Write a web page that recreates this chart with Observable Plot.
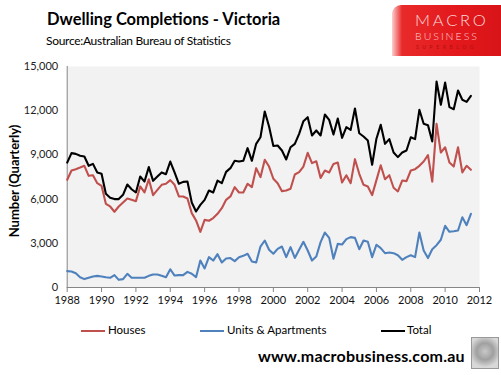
<!DOCTYPE html>
<html>
<head>
<meta charset="utf-8">
<script src="https://cdn.jsdelivr.net/npm/d3@7"></script>
<script src="https://cdn.jsdelivr.net/npm/@observablehq/plot@0.6"></script>
<style>
  html, body { margin: 0; padding: 0; background: #fff; }
  #wrap { position: relative; width: 501px; height: 375px; overflow: hidden; font-family: Lato, "Open Sans", sans-serif; color: #000; }
  #chart { position: absolute; left: 0; top: 0; }
  .abs { position: absolute; white-space: nowrap; }
  #title { left: 47px; top: 9px; font-size: 16.5px; font-weight: bold; letter-spacing: 0px; }
  #sub { left: 46px; top: 33px; font-size: 12px; letter-spacing: -0.3px; }
  #ylab { left: 14px; top: 181px; font-size: 13px; font-weight: bold; transform: translate(-50%, -50%) rotate(-90deg); }
  #logo { left: 392px; top: 5px; width: 109px; height: 51px; border-top-left-radius: 9px;
          background: linear-gradient(90deg, rgba(240,60,60,0.25) 0px, #e92a2a 10px, #e3181c 60%, #d81418 100%); }
  .lg1 { left: 23px; top: 5px; font-size: 16.5px; letter-spacing: 2.8px; color: #fbdada; font-weight: 300; }
  .lg2 { left: 23px; top: 25px; font-size: 10.5px; letter-spacing: 2px; color: #fbd0d0; font-weight: 300; }
  .lg3 { left: 24px; top: 39px; font-size: 5px; letter-spacing: 3.6px; color: #b01010; }
  .leg { top: 323px; font-size: 11.5px; }
  .legline { position: absolute; top: 330px; height: 2px; width: 24px; }
  #url { left: 258px; top: 346px; font-size: 16px; font-weight: bold; letter-spacing: 0.2px; }
  #wolf { left: 471px; top: 337px; width: 26px; height: 30px; border: 1px solid #999;
          background: radial-gradient(circle at 50% 45%, #c8c8c8 0, #a0a0a0 40%, #d8d8d8 75%); }
</style>
</head>
<body>
<div id="wrap">
  <div id="chart"></div>
  <div class="abs" id="title">Dwelling Completions - Victoria</div>
  <div class="abs" id="sub">Source:Australian Bureau of Statistics</div>
  <div class="abs" id="ylab">Number (Quarterly)</div>
  <div class="abs" id="logo">
    <div class="abs lg1">MACRO</div>
    <div class="abs lg2">BUSINESS</div>
    <div class="abs lg3">SUPERBLOG</div>
  </div>
  <div class="legline" style="left:81px;background:#c0504d"></div>
  <div class="abs leg" style="left:108px">Houses</div>
  <div class="legline" style="left:200px;background:#4f81bd"></div>
  <div class="abs leg" style="left:227px">Units &amp; Apartments</div>
  <div class="legline" style="left:381px;background:#000"></div>
  <div class="abs leg" style="left:407px">Total</div>
  <div class="abs" id="url">www.macrobusiness.com.au</div>
  <div class="abs" id="wolf"></div>
</div>
<script>
// Quarterly series, starting Q1 1988
const startYear = 1988;
const quartersPerYear = 4;

const houses = [
  7310, 7940, 8030, 8140, 8260, 7580, 7620, 7080, 6900, 5680,
  5500, 5140, 5500, 5770, 6040, 5950, 5860, 6860, 6450, 7350,
  6270, 6630, 6970, 7040, 7290, 6970, 6180, 6180, 6040, 5050,
  4550, 3780, 4590, 4530, 4710, 5000, 5380, 5950, 6180, 6810,
  6450, 6450, 7040, 6810, 8100, 7490, 8670, 8210, 7380, 7080,
  6540, 6580, 6700, 7670, 7830, 8210, 9140, 8440, 8570, 7440,
  7940, 7810, 8390, 8480, 7130, 7620, 7080, 8710, 7720, 6970,
  6860, 6270, 7290, 8300, 7350, 7620, 6770, 6520, 7260, 7220,
  7940, 8030, 8260, 8550, 8980, 7190, 11110, 9160, 9520, 8480,
  8210, 9520, 7810, 8260, 7990
];

const units = [
  1110, 1090, 970, 700, 570, 660, 750, 790, 750, 700,
  660, 840, 520, 570, 930, 660, 660, 660, 660, 790,
  880, 880, 790, 700, 1240, 810, 840, 840, 1060, 930,
  700, 1830, 1290, 2060, 1830, 2260, 1700, 1970, 2000, 1790,
  2060, 2150, 2290, 1770, 1700, 2780, 3190, 2560, 2290, 2620,
  2780, 2060, 2740, 2010, 2560, 3100, 2510, 1830, 2100, 3080,
  3730, 3370, 1950, 2960, 2920, 3280, 3420, 3370, 2600, 3190,
  3100, 2060, 2900, 2670, 2330, 2380, 2330, 2190, 1880, 2060,
  2190, 2060, 3730, 2510, 2000, 2600, 2870, 3240, 4190, 3780,
  3820, 3870, 4770, 4230, 5000
];

const total = [
  8480, 9120, 9070, 8940, 8890, 8260, 8390, 7810, 7720, 6360,
  6090, 6000, 6000, 6290, 6990, 6670, 6450, 7530, 7190, 8170,
  7240, 7530, 7810, 7690, 8550, 7810, 7040, 7170, 7190, 5770,
  5160, 5610, 5950, 6580, 6450, 7260, 7080, 7850, 8100, 8600,
  8550, 8600, 9460, 8600, 9750, 10200, 11950, 10930, 9600, 9640,
  9300, 8690, 9520, 9750, 10430, 11290, 11560, 10320, 10660, 10320,
  11740, 11380, 10380, 11470, 10160, 10880, 10700, 12150, 10470, 10250,
  9980, 8330, 10100, 11040, 9750, 10070, 9160, 8850, 9160, 9300,
  10200, 10070, 12060, 11110, 11020, 9910, 13980, 12400, 13910, 12240,
  12100, 13370, 12740, 12600, 13010
];

const xTicks = [1988, 1990, 1992, 1994, 1996, 1998, 2000, 2002, 2004, 2006, 2008, 2010, 2012];
const yTicks = [0, 3000, 6000, 9000, 12000, 15000];

const seriesNames = ["Houses", "Units & Apartments", "Total"];
const seriesColors = ["#c0504d", "#4f81bd", "#000000"];
const seriesValues = [houses, units, total];

const rowsFor = (vals) => vals.map((v, i) => ({t: startYear + i / quartersPerYear, v}));

const chart = Plot.plot({
  width: 501,
  height: 320,
  marginTop: 66,
  marginLeft: 66.7,
  marginRight: 22,
  marginBottom: 33,
  style: {fontFamily: "Lato, 'Open Sans', sans-serif", fontSize: "11px", background: "transparent", color: "#222"},
  x: {domain: [1988, 2012], label: null},
  y: {domain: [0, 15000], label: null},
  marks: [
    Plot.frame({fill: "#f2f2f2", stroke: null}),
    Plot.axisX({ticks: xTicks, tickFormat: d => String(d), tickSize: 5, tickPadding: 4, stroke: "#868686", fill: "#111", label: null}),
    Plot.axisY({ticks: yTicks, tickFormat: d3.format(","), tickSize: 0, tickPadding: 9, fill: "#222", label: null}),
    Plot.ruleX([1988], {stroke: "#868686"}),
    Plot.ruleY([0], {stroke: "#868686"}),
    ...seriesValues.map((vals, k) =>
      Plot.lineY(rowsFor(vals), {x: "t", y: "v", stroke: seriesColors[k], strokeWidth: 2.1, strokeLinejoin: "round", title: () => seriesNames[k]})
    )
  ]
});
document.getElementById("chart").appendChild(chart);
</script>
</body>
</html>
